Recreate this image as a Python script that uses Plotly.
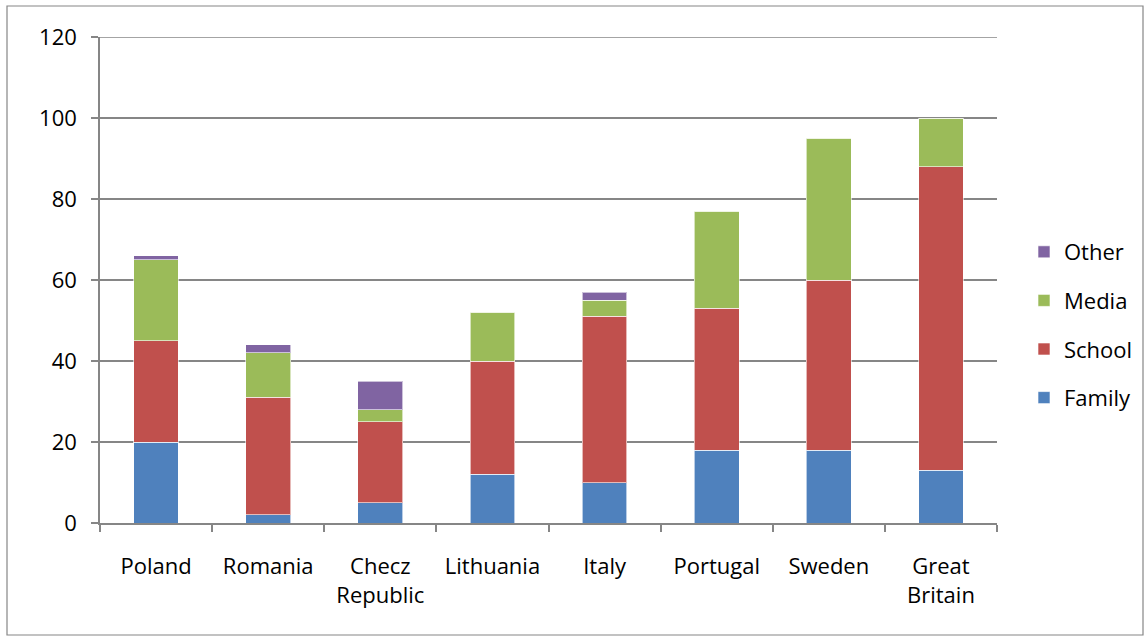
import plotly.graph_objects as go

countries = ["Poland", "Romania", "Checz<br>Republic", "Lithuania", "Italy",
             "Portugal", "Sweden", "Great<br>Britain"]
family = [20, 2, 5, 12, 10, 18, 18, 13]
school = [25, 29, 20, 28, 41, 35, 42, 75]
media = [20, 11, 3, 12, 4, 24, 35, 12]
other = [1, 2, 7, 0, 2, 0, 0, 0]
y_ticks = [0, 20, 40, 60, 80, 100, 120]

series = [("Family", family, "#4F81BD", 4), ("School", school, "#C0504D", 3),
          ("Media", media, "#9BBB59", 2), ("Other", other, "#8064A2", 1)]

font = "Open Sans, Liberation Sans, sans-serif"
fs = 22
fig = go.Figure()
for name, vals, col, rank in series:
    fig.add_trace(go.Bar(x=countries, y=vals, name=name, legendgroup=name, legendrank=rank,
                         marker=dict(color=col, line=dict(color="rgba(255,255,255,0.6)", width=1))))

W, H = 1146, 638
l, r, t, b = 100, 149, 37, 115
pw, ph = W - l - r, H - t - b
def px(x): return (x - l) / pw
def py(y): return (H - b - y) / ph

fig.update_layout(
    width=W, height=H, barmode="stack", bargap=0.6,
    margin=dict(l=l, r=r, t=t, b=b, autoexpand=False),
    plot_bgcolor="white", paper_bgcolor="white",
    font=dict(family=font, size=fs, color="black"),
    legend=dict(traceorder="grouped", tracegroupgap=17,
                x=px(1024), y=py(325), xanchor="left", yanchor="middle",
                font=dict(size=fs), itemwidth=30),
    showlegend=True,
)
fig.update_xaxes(showline=True, linecolor="#868686", linewidth=1.5,
                 ticks="outside", tickson="boundaries", ticklen=7, tickcolor="#868686",
                 tickwidth=1.5, ticklabelstandoff=23, showgrid=False,
                 tickfont=dict(size=fs))
fig.update_yaxes(range=[0, 120], tickvals=y_ticks, showline=True, linecolor="#868686",
                 linewidth=1.5, ticks="outside", ticklen=7, tickcolor="#868686", tickwidth=1.5,
                 gridcolor="#868686", gridwidth=1.5, ticklabelstandoff=10, zeroline=False,
                 tickfont=dict(size=fs))
fig.add_hline(y=y_ticks[-1], line=dict(color="#868686", width=1.5))
fig.add_shape(type="rect", xref="paper", yref="paper",
              x0=px(7), x1=px(1143), y0=py(635), y1=py(6),
              line=dict(color="#868686", width=1.2), layer="below")
fig.write_html("out.html", post_script="document.body.style.margin='0';",
               config={"displayModeBar": False})
